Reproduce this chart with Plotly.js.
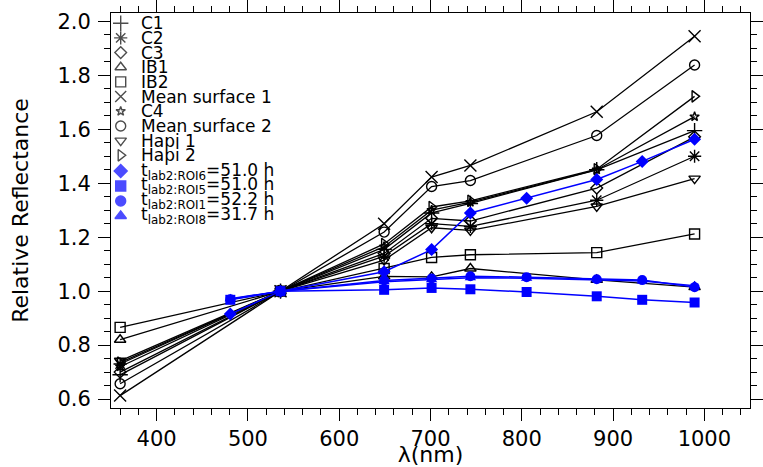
<!DOCTYPE html>
<html>
<head>
<meta charset="utf-8">
<script src="https://cdn.plot.ly/plotly-3.0.1.min.js"></script>
<style>html,body{margin:0;padding:0;background:#fff;}#chart{width:763px;height:467px;}</style>
</head>
<body>
<div id="chart"></div>
<script>
// ---- data ----
const wlBlack = [360.0, 535.7, 649.2, 701.2, 743.7, 882.1, 989.3];
const wlBlue  = [480.7, 535.7, 649.2, 701.2, 743.7, 805.3, 882.1, 931.9, 989.3];

const C1    = [0.690, 1.0, 1.155, 1.290, 1.325, 1.450, 1.595];
const C2    = [0.730, 1.0, 1.130, 1.250, 1.240, 1.337, 1.500];
const C3    = [0.700, 1.0, 1.140, 1.270, 1.260, 1.382, 1.572];
const IB1   = [0.820, 1.0, 1.055, 1.053, 1.084, 1.042, 1.015];
const IB2   = [0.866, 1.0, 1.084, 1.125, 1.135, 1.143, 1.212];
const MS1   = [0.613, 1.0, 1.250, 1.423, 1.466, 1.665, 1.945];
const C4    = [0.720, 1.0, 1.165, 1.300, 1.330, 1.450, 1.647];
const MS2   = [0.657, 1.0, 1.219, 1.388, 1.410, 1.577, 1.838];
const Hapi1 = [0.742, 1.0, 1.115, 1.235, 1.225, 1.314, 1.417];
const Hapi2 = [0.735, 1.0, 1.175, 1.312, 1.335, 1.452, 1.722];

const ROI6 = [0.915, 1.0, 1.072, 1.154, 1.290, 1.344, 1.414, 1.481, 1.563];
const ROI5 = [0.968, 1.0, 1.005, 1.012, 1.007, 0.997, 0.981, 0.968, 0.958];
const ROI1 = [0.970, 1.0, 1.040, 1.047, 1.055, 1.052, 1.044, 1.041, 1.015];
const ROI8 = [0.972, 1.0, 1.035, 1.042, 1.050, 1.048, 1.042, 1.038, 1.020];

const blackNames = ["C1", "C2", "C3", "IB1", "IB2", "Mean surface 1", "C4", "Mean surface 2", "Hapi 1", "Hapi 2"];
const blackSeries = [C1, C2, C3, IB1, IB2, MS1, C4, MS2, Hapi1, Hapi2];
const blueNames = ["t<sub>lab2:ROI6</sub>=51.0 h", "t<sub>lab2:ROI5</sub>=51.0 h", "t<sub>lab2:ROI1</sub>=52.2 h", "t<sub>lab2:ROI8</sub>=31.7 h"];
const blueSeries = [ROI6, ROI5, ROI1, ROI8];

const xTicks = [400, 500, 600, 700, 800, 900, 1000];
const yTicks = [0.6, 0.8, 1.0, 1.2, 1.4, 1.6, 1.8, 2.0];

// ---- styles ----
const blackSymbols = ["cross-thin-open", "asterisk-open", "diamond-open", "triangle-up-open", "square-open",
                      "x-thin-open", "star-open", "circle-open", "triangle-down-open", "triangle-right-open"];
const blackSizes = [11, 11, 9, 10, 10, 12, 7, 10, 10, 10];
const blueSymbols = ["diamond", "square", "circle", "triangle-up"];
const blueSizes = [10, 10, 10, 10];
const BLUE = "#0000ff";

const traces = [];
blackSeries.forEach((s, i) => {
  traces.push({
    x: wlBlack, y: s, type: "scatter", mode: "lines+markers", name: blackNames[i],
    showlegend: false, cliponaxis: false,
    line: {color: "#000", width: 1.3},
    marker: {symbol: blackSymbols[i], size: blackSizes[i], color: "#000", line: {color: "#000", width: 1.4}}
  });
});
blueSeries.forEach((s, i) => {
  traces.push({
    x: wlBlue, y: s, type: "scatter", mode: "lines+markers", name: blueNames[i],
    showlegend: false, cliponaxis: false,
    line: {color: BLUE, width: 1.5},
    marker: {symbol: blueSymbols[i], size: blueSizes[i], color: BLUE, line: {width: 0}}
  });
});

// ---- hand-built legend (on a hidden overlay axis in plot-fraction units) ----
const allNames = blackNames.concat(blueNames);
const allSymbols = blackSymbols.concat(blueSymbols);
const allSizes = blackSizes.concat(blueSizes);
const allColors = blackNames.map(() => "#000").concat(blueNames.map(() => BLUE));
const plotTop = 12.5, plotBottom = 408, plotLeft = 111, plotRight = 750;
const rowPx = allNames.map((n, i) => i < 10 ? 22.7 + i * 14.7 : 170.7 + (i - 10) * 15);
const rowFrac = rowPx.map(p => (plotBottom - p) / (plotBottom - plotTop));
const markFrac = (120.7 - plotLeft) / (plotRight - plotLeft);
const textFrac = (139 - plotLeft) / (plotRight - plotLeft);

traces.push({
  x: allNames.map(() => markFrac), y: rowFrac, xaxis: "x2", yaxis: "y2",
  type: "scatter", mode: "markers", showlegend: false, hoverinfo: "skip", cliponaxis: false,
  marker: {symbol: allSymbols, size: allSizes.map(s => Math.min(s, 11)), color: allColors,
           line: {color: allColors, width: 1.4}}
});

const annotations = allNames.map((n, i) => ({
  xref: "paper", yref: "paper", x: textFrac, y: rowFrac[i], xanchor: "left", yanchor: "middle",
  text: n, showarrow: false, font: {family: "DejaVu Sans", size: 17, color: "#000"}
}));

const axisCommon = {
  showline: true, linecolor: "#000", linewidth: 1, mirror: "allticks",
  ticks: "outside", ticklen: 12, tickwidth: 1, tickcolor: "#000",
  showgrid: false, zeroline: false,
  tickfont: {family: "DejaVu Sans", size: 21, color: "#000"}
};

const layout = {
  width: 763, height: 467,
  margin: {l: plotLeft, r: 763 - plotRight, t: plotTop, b: 467 - plotBottom},
  paper_bgcolor: "#fff", plot_bgcolor: "#fff",
  font: {family: "DejaVu Sans", color: "#000"},
  showlegend: false,
  xaxis: Object.assign({}, axisCommon, {
    range: [350, 1050], tickvals: xTicks, ticktext: xTicks.map(String),
    minor: {dtick: 20, tick0: 0, ticks: "outside", ticklen: 6, tickcolor: "#000"},
    title: {text: "λ(nm)", font: {family: "DejaVu Sans", size: 22, color: "#000"}, standoff: 0}
  }),
  yaxis: Object.assign({}, axisCommon, {
    range: [0.567, 2.031], tickvals: yTicks, ticktext: yTicks.map(v => v.toFixed(1)),
    ticklabelstandoff: 3,
    minor: {dtick: 0.05, tick0: 0, ticks: "outside", ticklen: 6, tickcolor: "#000"},
    title: {text: "Relative Reflectance", font: {family: "DejaVu Sans", size: 22, color: "#000"}, standoff: 22}
  }),
  xaxis2: {overlaying: "x", range: [0, 1], visible: false, fixedrange: true},
  yaxis2: {overlaying: "y", range: [0, 1], visible: false, fixedrange: true},
  annotations: annotations
};

Plotly.newPlot("chart", traces, layout, {staticPlot: true, displayModeBar: false});
</script>
</body>
</html>
